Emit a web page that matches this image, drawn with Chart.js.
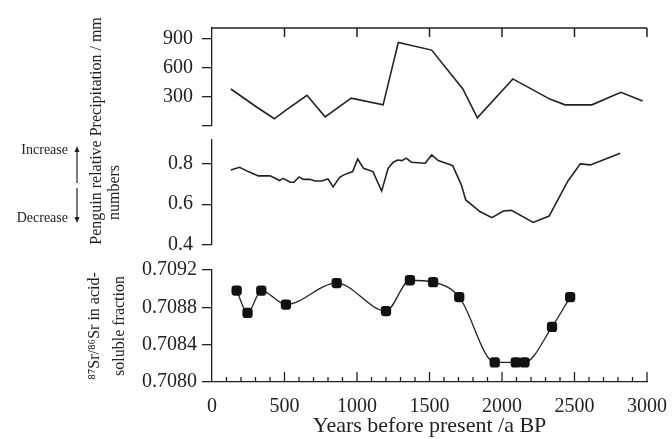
<!DOCTYPE html>
<html>
<head>
<meta charset="utf-8">
<script src="https://cdn.jsdelivr.net/npm/chart.js@4/dist/chart.umd.min.js"></script>
<style>
  body { margin: 0; background: #fff; }
  #wrap { position: relative; width: 672px; height: 439px; }
  canvas { position: absolute; left: 0; }
</style>
</head>
<body>
<div id="wrap">
  <canvas id="precipChart" width="672" height="140" style="top:0px"></canvas>
  <canvas id="penguinChart" width="672" height="135" style="top:130px"></canvas>
  <canvas id="srChart" width="672" height="184" style="top:255px"></canvas>
</div>
<script>
// values
const precipYears = [130, 310, 430, 510, 655, 780, 960, 1180, 1285, 1515, 1730, 1830, 2075, 2330, 2435, 2620, 2820, 2970];
const precipValues = [380, 190, 70, 160, 315, 90, 285, 215, 865, 785, 380, 80, 485, 275, 215, 215, 345, 255];

const penguinYears = [130, 190, 250, 320, 400, 435, 465, 490, 540, 565, 600, 630, 675, 710, 755, 800, 835, 880, 910, 970,
	1005, 1045, 1110, 1170, 1215, 1250, 1280, 1310, 1340, 1375, 1470, 1515, 1560, 1630, 1660, 1720, 1750, 1850, 1930,
	2010, 2065, 2215, 2325, 2455, 2540, 2610, 2815];
const penguinValues = [0.768, 0.781, 0.760, 0.739, 0.739, 0.727, 0.716, 0.727, 0.708, 0.708, 0.734, 0.722, 0.722, 0.714,
	0.714, 0.724, 0.685, 0.732, 0.744, 0.760, 0.822, 0.776, 0.760, 0.665, 0.776, 0.806, 0.817, 0.814, 0.826, 0.806,
	0.801, 0.842, 0.814, 0.797, 0.789, 0.694, 0.621, 0.563, 0.534, 0.567, 0.570, 0.511, 0.542, 0.714, 0.798, 0.793, 0.850];

const srYears = [170, 245, 340, 510, 860, 1200, 1365, 1525, 1705, 1950, 2095, 2155, 2345, 2470];
const srValues = [0.70898, 0.70874, 0.70898, 0.70883, 0.70906, 0.70876, 0.70909, 0.70907, 0.70891,
	0.70821, 0.70821, 0.70821, 0.70859, 0.70891];

const yearTicks = [0, 500, 1000, 1500, 2000, 2500, 3000];
const precipTicks = [0, 300, 600, 900];
const penguinTicks = [0.4, 0.6, 0.8];
const srTicks = [0.7080, 0.7084, 0.7088, 0.7092];

const serif = "'Liberation Serif', 'Times New Roman', serif";
const ink = '#222';
const AXIS_LEFT = 212;

const toPoints = (xs, ys) => xs.map((x, i) => ({ x, y: ys[i] }));

// y axis shared look, width forced so the three panels line up
const yScale = (o) => ({
	type: 'linear',
	min: o.min,
	max: o.max,
	afterBuildTicks: (s) => { s.ticks = o.ticks.map((v) => ({ value: v })); },
	afterFit: (s) => { s.width = AXIS_LEFT; s.paddingTop = 0; s.paddingBottom = 0; },
	border: { color: ink, width: 1.3 },
	grid: { drawOnChartArea: false, color: ink, lineWidth: 1.3, tickLength: 10 },
	ticks: { color: ink, padding: o.pad, font: { family: serif, size: 20 }, callback: o.fmt },
	title: {
		display: true, text: o.title, color: ink,
		font: { family: serif, size: 16, lineHeight: o.lh },
		padding: { top: o.tpad, bottom: 0 },
	},
});

const hiddenX = { type: 'linear', min: 0, max: 3000, display: false };

// top spine with short ticks hanging down (precipitation panel)
const topSpine = {
	id: 'topSpine',
	afterDatasetsDraw(chart) {
		const { ctx, chartArea: a, scales } = chart;
		ctx.save();
		ctx.strokeStyle = ink;
		ctx.lineWidth = 1.5;
		ctx.beginPath();
		ctx.moveTo(a.left, a.top);
		ctx.lineTo(a.right, a.top);
		yearTicks.forEach((v) => {
			if (v === 0) return;
			const x = scales.x.getPixelForValue(v);
			ctx.moveTo(x, a.top);
			ctx.lineTo(x, a.top + 9);
		});
		ctx.stroke();
		ctx.restore();
	},
};

// inward major/minor ticks on the bottom axis
const innerTicks = {
	id: 'innerTicks',
	afterDatasetsDraw(chart) {
		const { ctx, chartArea: a, scales } = chart;
		ctx.save();
		ctx.strokeStyle = ink;
		ctx.lineWidth = 1.3;
		ctx.beginPath();
		for (let v = 100; v <= 3000; v += 100) {
			const x = scales.x.getPixelForValue(v);
			const len = v % 500 === 0 ? 10 : 5;
			ctx.moveTo(x, a.bottom);
			ctx.lineTo(x, a.bottom - len);
		}
		ctx.stroke();
		ctx.restore();
	},
};

// "Increase / Decrease" arrows left of the penguin panel
const trendArrows = {
	id: 'trendArrows',
	afterDraw(chart) {
		const { ctx } = chart;
		ctx.save();
		ctx.fillStyle = ink;
		ctx.strokeStyle = ink;
		ctx.lineWidth = 1.2;
		ctx.font = '14px ' + serif;
		ctx.textAlign = 'right';
		ctx.textBaseline = 'middle';
		ctx.fillText('Increase', 68, 20);
		ctx.fillText('Decrease', 68, 88);
		ctx.beginPath();
		ctx.moveTo(77, 53); ctx.lineTo(77, 19);
		ctx.moveTo(77, 58); ctx.lineTo(77, 90);
		ctx.stroke();
		ctx.beginPath();
		ctx.moveTo(77, 16); ctx.lineTo(74.5, 22); ctx.lineTo(79.5, 22); ctx.closePath();
		ctx.moveTo(77, 93); ctx.lineTo(74.5, 87); ctx.lineTo(79.5, 87); ctx.closePath();
		ctx.fill();
		ctx.restore();
	},
};

const common = {
	responsive: false,
	animation: false,
	plugins: { legend: { display: false }, tooltip: { enabled: false } },
};

const lineSet = (data, width) => ({
	data,
	borderColor: ink,
	borderWidth: width,
	pointRadius: 0,
	tension: 0,
	clip: false,
});

new Chart(document.getElementById('precipChart'), {
	type: 'line',
	data: { datasets: [lineSet(toPoints(precipYears, precipValues), 1.6)] },
	options: {
		...common,
		layout: { padding: { top: 28, bottom: 14.5, left: 0, right: 25 } },
		scales: {
			x: hiddenX,
			y: yScale({
				min: 0, max: 1015, ticks: precipTicks, pad: 9,
				fmt: (v) => (v === 0 ? '' : String(v)),
				title: 'Precipitation / mm', lh: 1.2, tpad: 87,
			}),
		},
	},
	plugins: [topSpine],
});

new Chart(document.getElementById('penguinChart'), {
	type: 'line',
	data: { datasets: [lineSet(toPoints(penguinYears, penguinValues), 1.6)] },
	options: {
		...common,
		layout: { padding: { top: 10, bottom: 20, left: 0, right: 25 } },
		scales: {
			x: hiddenX,
			y: yScale({
				min: 0.4, max: 0.915, ticks: penguinTicks, pad: 9,
				fmt: (v) => v.toFixed(1),
				title: ['Penguin relative', 'numbers'], lh: '18px', tpad: 88,
			}),
		},
	},
	plugins: [trendArrows],
});

new Chart(document.getElementById('srChart'), {
	type: 'line',
	data: {
		datasets: [{
			...lineSet(toPoints(srYears, srValues), 1.3),
			cubicInterpolationMode: 'monotone',
			pointStyle: 'rectRounded',
			pointRadius: 6,
			pointBackgroundColor: '#111',
			pointBorderColor: '#111',
			pointBorderWidth: 0,
		}],
	},
	options: {
		...common,
		layout: { padding: { top: 15, bottom: 0, left: 0, right: 25 } },
		scales: {
			x: {
				type: 'linear',
				min: 0,
				max: 3000,
				afterBuildTicks: (s) => { s.ticks = yearTicks.map((v) => ({ value: v })); },
				afterFit: (s) => { s.height = 57; s.paddingLeft = 0; s.paddingRight = 0; },
				border: { color: ink, width: 1.3 },
				grid: { display: false },
				ticks: {
					color: ink, padding: 5, maxRotation: 0,
					font: { family: serif, size: 20 },
					callback: (v) => String(v),
				},
				title: {
					display: true, text: 'Years before present /a BP', color: ink,
					font: { family: serif, size: 22 }, padding: { top: 0, bottom: 0 },
				},
			},
			y: yScale({
				min: 0.7080, max: 0.7092, ticks: srTicks, pad: 5,
				fmt: (v) => v.toFixed(4),
				title: ['\u2078\u2077Sr/\u2078\u2076Sr in acid-', 'soluble fraction'], lh: '25px', tpad: 82.5,
			}),
		},
	},
	plugins: [innerTicks],
});
</script>
</body>
</html>
